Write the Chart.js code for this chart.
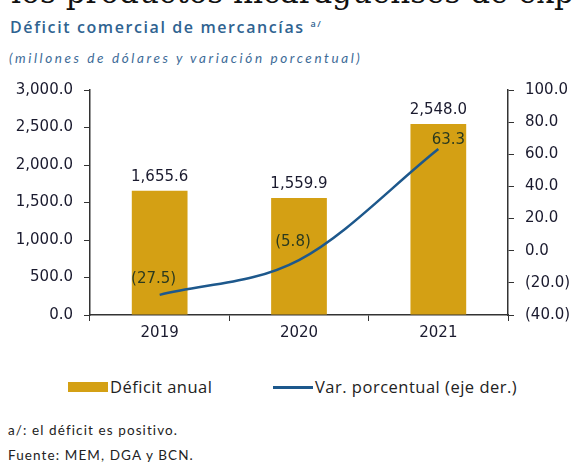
<!DOCTYPE html>
<html>
<head>
<meta charset="utf-8">
<script src="https://cdn.jsdelivr.net/npm/chart.js@4"></script>
<style>
  body { margin: 0; width: 575px; height: 464px; overflow: hidden; background: #fff; position: relative; font-family: "Lato", sans-serif; }
  .abs { position: absolute; white-space: nowrap; }
  #cut { left: -16px; top: -23px; line-height: 31px; font-family: "DejaVu Serif", serif; font-size: 31px; color: #111; }
  #title { left: 10px; top: 13px; line-height: 22px; font-family: "Open Sans", sans-serif; font-size: 16px; font-weight: 600; color: #2f6391; letter-spacing: 1.6px; }
  #sub { left: 9px; top: 49px; line-height: 18px; font-size: 13.5px; font-style: italic; color: #3d6b98; letter-spacing: 2.6px; }
  #chartBox { left: 0; top: 70px; width: 575px; height: 278px; }
  .leg { top: 376px; line-height: 22px; font-size: 16.5px; color: #222; font-family: "Open Sans", sans-serif; letter-spacing: 0.5px; }
  .sw { position: absolute; }
  .note { left: 8px; line-height: 18px; font-size: 13.5px; color: #222; letter-spacing: 1.1px; }
</style>
</head>
<body>
<div class="abs" id="cut">y los productos nicaragüenses de exportación</div>
<div class="abs" id="title">Déficit comercial de mercancías <sup style="font-size:9px">a/</sup></div>
<div class="abs" id="sub">(millones de dólares y variación porcentual)</div>
<div class="abs" id="chartBox"><canvas id="chart"></canvas></div>

<div class="sw" style="left:68px; top:382px; width:40px; height:10px; background:#d4a014;"></div>
<div class="abs leg" style="left:110px;">Déficit anual</div>
<div class="sw" style="left:273px; top:386px; width:40px; height:3px; background:#1d588c;"></div>
<div class="abs leg" style="left:315px;">Var. porcentual (eje der.)</div>

<div class="abs note" style="top:421px;">a/: el déficit es positivo.</div>
<div class="abs note" style="top:446px;">Fuente: MEM, DGA y BCN.</div>

<script>
const years = ["2019", "2020", "2021"];
const deficit = [1655.6, 1559.9, 2548.0];
const variation = [-27.5, -5.8, 63.3];

const barColor = "#d4a014";
const lineColor = "#1d588c";

const fmt = (v) => {
  const s = Math.abs(v).toLocaleString("en-US", { minimumFractionDigits: 1, maximumFractionDigits: 1 });
  return v < 0 ? "(" + s + ")" : s;
};

// draws the value labels on bars and line points
const valueLabels = {
  id: "valueLabels",
  afterDatasetsDraw(chart) {
    const ctx = chart.ctx;
    ctx.save();
    ctx.font = "15px 'DejaVu Sans'";
    ctx.textAlign = "center";
    ctx.textBaseline = "bottom";
    const bars = chart.getDatasetMeta(0).data;
    bars.forEach((b, i) => {
      ctx.fillStyle = "#1a1a2e";
      ctx.fillText(fmt(deficit[i]), b.x, b.y - 6);
    });
    const pts = chart.getDatasetMeta(1).data;
    const offs = [[-6, -8], [-6, -10], [10, -1]];
    pts.forEach((p, i) => {
      ctx.fillStyle = "#2b3a1f";
      ctx.fillText(fmt(variation[i]), p.x + offs[i][0], p.y + offs[i][1]);
    });
    ctx.restore();
  }
};

const tickFont = { family: "DejaVu Sans", size: 15 };

new Chart(document.getElementById("chart"), {
  type: "bar",
  plugins: [valueLabels],
  data: {
    labels: years,
    datasets: [
      {
        label: "Déficit anual",
        data: deficit,
        backgroundColor: barColor,
        barPercentage: 0.4,
        categoryPercentage: 1,
        yAxisID: "y",
        order: 2
      },
      {
        label: "Var. porcentual (eje der.)",
        type: "line",
        data: variation,
        borderColor: lineColor,
        borderWidth: 2.5,
        pointRadius: 0,
        cubicInterpolationMode: "monotone",
        yAxisID: "y1",
        order: 1
      }
    ]
  },
  options: {
    responsive: true,
    maintainAspectRatio: false,
    animation: false,
    layout: { padding: { top: 2, left: 0, right: 0, bottom: 0 } },
    plugins: { legend: { display: false }, tooltip: { enabled: false } },
    scales: {
      x: {
        grid: { display: true, drawOnChartArea: false, tickLength: 6, color: "#333", offset: true },
        border: { display: true, color: "#333", width: 1.5 },
        ticks: { font: tickFont, color: "#1a1a2e", padding: 3 },
        afterFit: (s) => { s.height = 33; }
      },
      y: {
        position: "left",
        min: 0, max: 3000,
        grid: { display: true, drawOnChartArea: false, tickLength: 6, color: "#333" },
        border: { display: true, color: "#333", width: 1.5 },
        ticks: { stepSize: 500, font: tickFont, color: "#1a1a2e", padding: 11, callback: (v) => fmt(v) },
        afterFit: (s) => { s.width = 90; }
      },
      y1: {
        position: "right",
        min: -40, max: 100,
        grid: { display: true, drawOnChartArea: false, tickLength: 6, color: "#333" },
        border: { display: true, color: "#333", width: 1.5 },
        ticks: { stepSize: 20, font: tickFont, color: "#1a1a2e", padding: 11, callback: (v) => fmt(v) },
        afterFit: (s) => { s.width = 67; }
      }
    }
  }
});
</script>
</body>
</html>
